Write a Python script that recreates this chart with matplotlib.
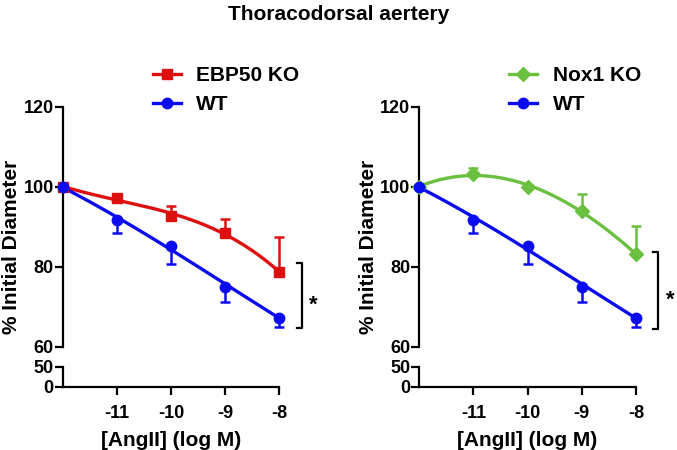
import numpy as np
import matplotlib.pyplot as plt

plt.rcParams['font.family'] = ['Liberation Sans', 'DejaVu Sans']
plt.rcParams['font.weight'] = 'bold'
plt.rcParams['axes.unicode_minus'] = False

# --- data ---
log_conc = [-12, -11, -10, -9, -8]
tick_x = [-11, -10, -9, -8]

wt_mean = [100, 91.7, 85.3, 75.0, 67.3]
wt_err = [0, 3.2, 4.5, 3.8, 2.4]          # drawn downward
ebp50_mean = [100, 97.1, 92.7, 88.5, 78.6]
ebp50_err = [0, 0.6, 2.6, 3.4, 8.9]       # drawn upward
nox1_mean = [100, 103.1, 100.0, 94.0, 83.1]
nox1_err = [0, 1.7, 0.5, 4.1, 7.2]        # drawn upward

upper_ticks = [60, 80, 100, 120]
lower_ticks = [0, 50]
bracket_lo = [64.8, 64.4]
bracket_hi = [80.9, 83.7]

RED = '#DE0F0F'
BLUE = '#0B0BF0'
GREEN = '#6CC040'

W, H = 677, 450
fig = plt.figure(figsize=(W / 100, H / 100), dpi=100)


def px(x0, y_top, w, h):
    return [x0 / W, 1 - (y_top + h) / H, w / W, h / H]


def fit_curve(x, y):
    # smooth fitted line, like the one the plotting software drew
    c = np.polyfit(x, y, 3)
    xs = np.linspace(min(x), max(x), 200)
    return xs, np.polyval(c, xs)


def series(ax, mean, err, color, marker, ms, label, up):
    xs, ys = fit_curve(log_conc, mean)
    ax.plot(xs, ys, color=color, lw=2.4, clip_on=False, zorder=3)
    z = [0] * len(err)
    yerr = [z, err] if up else [err, z]
    ax.errorbar(log_conc, mean, yerr=yerr, fmt='none', ecolor=color,
                elinewidth=1.8, capsize=3.5, capthick=1.8, clip_on=False, zorder=3)
    ax.plot(log_conc, mean, linestyle='none', marker=marker, ms=ms, color=color,
            clip_on=False, zorder=4)
    return ax.plot([], [], color=color, lw=2.4, marker=marker, ms=ms, label=label)[0]


def panel(x0, ylab_x, ko_mean, ko_err, ko_color, ko_marker, ko_ms, ko_label, k):
    ax = fig.add_axes(px(x0, 106.7, 216.6, 240))
    axl = fig.add_axes(px(x0, 366.7, 216.6, 20))
    for a in (ax, axl):
        a.set_xlim(-12, -8)
        a.spines['right'].set_visible(False)
        a.spines['top'].set_visible(False)
        a.spines['left'].set_linewidth(1.6)
        a.spines['bottom'].set_linewidth(1.6)
        a.patch.set_visible(False)
        a.tick_params(width=1.6, length=6, labelsize=13)
    ax.spines['bottom'].set_visible(False)
    ax.set_ylim(60, 120)
    ax.set_yticks(upper_ticks)
    ax.set_xticks([])
    axl.set_ylim(0, 50)
    axl.set_yticks(lower_ticks)
    axl.set_xticks(tick_x)
    axl.tick_params(axis='y', pad=0.5)
    ax.tick_params(axis='y', pad=0.5)
    axl.tick_params(axis='x', pad=7)
    axl.set_xlabel('[AngII] (log M)', fontsize=15, fontweight='bold', labelpad=7)

    h_ko = series(ax, ko_mean, ko_err, ko_color, ko_marker, ko_ms, ko_label, True)
    h_wt = series(ax, wt_mean, wt_err, BLUE, 'o', 7.5, 'WT', False)

    ax.legend(handles=[h_ko, h_wt], loc='upper left', frameon=False,
              bbox_to_anchor=((x0 + 90) / W, 1 - 66 / H), bbox_transform=fig.transFigure,
              fontsize=15, handlelength=1.35, handletextpad=0.75, labelspacing=0.5,
              borderpad=0, borderaxespad=0)

    # significance bracket
    bx = -7.59
    ax.plot([bx - 0.09, bx, bx, bx - 0.09],
            [bracket_lo[k], bracket_lo[k], bracket_hi[k], bracket_hi[k]],
            color='black', lw=1.6, clip_on=False)
    ax.text(bx + 0.22, (bracket_lo[k] + bracket_hi[k]) / 2 - 2.5, '*', fontsize=16,
            ha='center', va='center')

    fig.text(ylab_x / W, 1 - 247 / H, '% Initial Diameter', rotation=90,
             fontsize=15, fontweight='bold', ha='center', va='center')


panel(62.7, 12, ebp50_mean, ebp50_err, RED, 's', 7.5, 'EBP50 KO', 0)
panel(419.3, 368, nox1_mean, nox1_err, GREEN, 'D', 7, 'Nox1 KO', 1)

fig.text(0.5, 1 - 14 / H, 'Thoracodorsal aertery', fontsize=15, fontweight='bold',
         ha='center', va='center')

fig.savefig('out.png', dpi=100)
